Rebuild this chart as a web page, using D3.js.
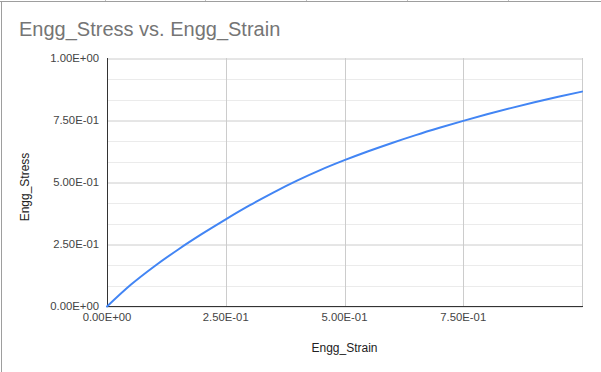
<!DOCTYPE html>
<html>
<head>
<meta charset="utf-8">
<script src="https://cdn.jsdelivr.net/npm/d3@7"></script>
<style>
  html, body { margin: 0; padding: 0; background: #fff; }
  svg { display: block; font-family: Arial, "Liberation Sans", sans-serif; }
</style>
</head>
<body>
<svg id="chart" width="601" height="372"></svg>
<script>
const title = "Engg_Stress vs. Engg_Strain";
const xTitle = "Engg_Strain";
const yTitle = "Engg_Stress";

const strain = [0, 0.05, 0.1, 0.15, 0.2, 0.25, 0.3, 0.35, 0.4, 0.45, 0.5, 0.55, 0.6, 0.65, 0.7, 0.75, 0.8, 0.85, 0.9, 0.95, 1.0];
const stress = [0, 0.0875, 0.1625, 0.23, 0.2925, 0.3515, 0.4075, 0.4595, 0.5075, 0.551, 0.59, 0.626, 0.6595, 0.691, 0.7205, 0.7485, 0.775, 0.8, 0.8235, 0.8455, 0.8665];

const xMajor = [0, 0.25, 0.5, 0.75, 1.0];
const xTickLabels = ["0.00E+00", "2.50E-01", "5.00E-01", "7.50E-01"];
const yMajor = [0, 0.25, 0.5, 0.75, 1.0];
const yTickLabels = ["0.00E+00", "2.50E-01", "5.00E-01", "7.50E-01", "1.00E+00"];
const yMinor = [1/12, 2/12, 4/12, 5/12, 7/12, 8/12, 10/12, 11/12];

const svg = d3.select("#chart");
const W = 601, H = 372;
const L = 107, R = 582, T = 58.5, B = 306.5;

const x = d3.scaleLinear().domain([0, 1]).range([L, R]);
const y = d3.scaleLinear().domain([0, 1]).range([B, T]);

// spreadsheet frame
svg.append("line").attr("x1", 0).attr("x2", W).attr("y1", 1.5).attr("y2", 1.5)
  .attr("stroke", "#9e9e9e").attr("stroke-width", 1);
svg.append("line").attr("x1", 1.5).attr("x2", 1.5).attr("y1", 1).attr("y2", H)
  .attr("stroke", "#9e9e9e").attr("stroke-width", 1);
[105, 205, 306, 407, 508].forEach(cx => {
  svg.append("line").attr("x1", cx + 0.5).attr("x2", cx + 0.5).attr("y1", 0).attr("y2", 1)
    .attr("stroke", "#c0c0c0");
});

// title
svg.append("text").attr("x", 19).attr("y", 36)
  .attr("font-size", 20).attr("fill", "#757575").text(title);

const g = svg.append("g");

// minor gridlines
g.selectAll("line.ymin").data(yMinor).join("line").attr("class", "ymin")
  .attr("x1", L).attr("x2", R)
  .attr("y1", d => Math.round(y(d)) + 0.5).attr("y2", d => Math.round(y(d)) + 0.5)
  .attr("stroke", "#ebebeb");

// major gridlines
g.selectAll("line.ymaj").data(yMajor).join("line").attr("class", "ymaj")
  .attr("x1", L).attr("x2", R + 0.5)
  .attr("y1", d => Math.round(y(d))).attr("y2", d => Math.round(y(d)))
  .attr("stroke", "#cccccc");
g.selectAll("line.xmaj").data(xMajor).join("line").attr("class", "xmaj")
  .attr("x1", d => Math.round(x(d)) + 0.5).attr("x2", d => Math.round(x(d)) + 0.5)
  .attr("y1", T - 0.5).attr("y2", B)
  .attr("stroke", "#cccccc");

// axes lines
g.append("line").attr("x1", L + 0.5).attr("x2", L + 0.5).attr("y1", T - 0.5).attr("y2", B + 0.5)
  .attr("stroke", "#333333");
g.append("line").attr("x1", L).attr("x2", R + 1).attr("y1", B).attr("y2", B)
  .attr("stroke", "#333333");

// y tick labels
g.selectAll("text.yl").data(yMajor).join("text").attr("class", "yl")
  .attr("x", 99).attr("y", d => y(d) + 3.8)
  .attr("text-anchor", "end").attr("font-size", 11.3).attr("fill", "#444444")
  .text((d, i) => yTickLabels[i]);

// x tick labels
g.selectAll("text.xl").data(xMajor.slice(0, xTickLabels.length)).join("text").attr("class", "xl")
  .attr("x", d => x(d)).attr("y", 321)
  .attr("text-anchor", "middle").attr("font-size", 11.3).attr("fill", "#444444")
  .text((d, i) => xTickLabels[i]);

// axis titles
svg.append("text").attr("x", (L + R) / 2).attr("y", 352)
  .attr("text-anchor", "middle").attr("font-size", 12).attr("fill", "#222222").text(xTitle);
svg.append("text").attr("transform", "translate(29,187) rotate(-90)")
  .attr("text-anchor", "middle").attr("font-size", 12).attr("fill", "#222222").text(yTitle);

// series line
const line = d3.line().x((d, i) => x(strain[i])).y(d => y(d)).curve(d3.curveMonotoneX);
g.append("path").attr("d", line(stress))
  .attr("fill", "none").attr("stroke", "#4285f4").attr("stroke-width", 2)
  .attr("stroke-linejoin", "round").attr("stroke-linecap", "round");
</script>
</body>
</html>
